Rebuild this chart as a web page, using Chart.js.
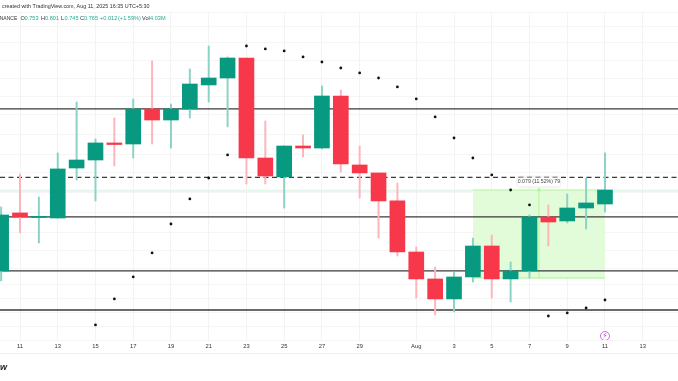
<!DOCTYPE html>
<html>
<head>
<meta charset="utf-8">
<title>BINANCE daily</title>
<script src="https://cdn.jsdelivr.net/npm/chart.js@4"></script>
<style>
  html, body { margin: 0; padding: 0; background: #fff; overflow: hidden; }
  canvas { display: block; }
</style>
</head>
<body>
<canvas id="chart" width="678" height="381"></canvas>
<script>
// Days since Jul 11
const candleDays = [-1,0,1,2,3,4,5,6,7,8,9,10,11,12,13,14,15,16,17,18,19,20,21,22,23,24,25,26,27,28,29,30,31];
const opens  = [.6881,.7432,.7389,.7384,.7859,.7935,.8097,.8087,.8420,.8315,.8420,.8648,.8714,.8904,.7954,.7774,.8068,.8049,.8543,.7888,.7812,.7546,.7061,.6805,.6615,.6824,.7118,.6805,.6881,.7394,.7356,.7479,.7517];
const highs  = [.7489,.7802,.7584,.8002,.8486,.8135,.8334,.8515,.8876,.8467,.8800,.9018,.8914,.8904,.8306,.8068,.8173,.8638,.8600,.8068,.7812,.7717,.7109,.6919,.6871,.7194,.7223,.6966,.7413,.7508,.7612,.7764,.8002];
const lows   = [.6786,.7242,.7147,.7384,.7745,.7546,.7878,.7954,.8087,.8049,.8334,.8486,.8249,.7707,.7707,.7479,.7964,.8040,.7821,.7574,.7194,.7023,.6624,.6463,.6491,.6776,.6624,.6586,.6814,.7118,.7337,.7280,.7441];
const closes = [.7413,.7394,.7399,.7850,.7935,.8097,.8082,.8420,.8315,.8420,.8657,.8714,.8904,.7954,.7783,.8068,.8049,.8543,.7897,.7812,.7546,.7061,.6805,.6615,.6824,.7118,.6805,.6881,.7394,.7346,.7479,.7527,.7650];

// Parabolic SAR dots
const sarDays = [4,5,6,7,8,9,10,11,12,13,14,15,16,17,18,19,20,21,22,23,24,25,26,27,28,29,30,31];
const sarValues = [.6368,.6615,.6824,.7052,.7327,.7565,.7764,.7983,.9018,.8990,.8971,.8914,.8866,.8809,.8762,.8714,.8629,.8515,.8344,.8144,.7954,.7793,.7650,.7508,.6453,.6482,.6529,.6605];

// Drawn levels
const solidLevels = [.8420,.7394,.6881,.6510];
const dashedLevel = .7769;
const lastPriceLevel = .7643;

// Long position box
const boxDays = [24,31];
const boxTop = .7650;
const boxBottom = .6814;
const arrowDay = 27.5;
const boxLabel = '0.079 (11.52%) 79';

// Axes
const tickDays = [0,2,4,6,8,10,12,14,16,18,21,23,25,27,29,31,33];
const tickLabels = ['11','13','15','17','19','21','23','25','27','29','Aug','3','5','7','9','11','13'];
const gridPrices = [.9341,.9208,.9047,.8876,.8705,.8534,.8363,.8182,.7992,.7812,.7622,.7432,.7242,.7080,.6909,.6757,.6624,.6482,.6349,.6225];
const dayMin = -1.06, dayMax = 34.87;
const priceMin = .6225, priceMax = .9341;
const eventDay = 31, eventPrice = .6263;

const upColor = '#089981', downColor = '#f7374a';
const upWick = '#8ad2c5', downWick = '#fdb4bb';
const isUp = closes.map((c, i) => c >= opens[i]);

function levelLine(value, extra) {
    return Object.assign({
        type: 'line',
        data: [{x: dayMin, y: value}, {x: dayMax, y: value}],
        borderColor: '#3a3a3a',
        borderWidth: 1.3,
        pointRadius: 0,
        order: 5
    }, extra);
}

// Text and small overlays
const overlay = {
    id: 'overlay',
    beforeDraw(chart) {
        const c = chart.ctx, bottom = chart.scales.x.bottom;
        c.save();
        c.strokeStyle = '#f0f0f0';
        c.beginPath();
        c.moveTo(0, bottom + 0.5);
        c.lineTo(678, bottom + 0.5);
        c.stroke();
        c.restore();
    },
    afterDraw(chart) {
        const c = chart.ctx, x = chart.scales.x, y = chart.scales.y;
        c.save();
        c.textBaseline = 'middle';
        c.font = '5.4px "Liberation Sans"';
        c.fillStyle = '#333';
        c.fillText('created with TradingView.com, Aug 11, 2025 16:35 UTC+5:30', 2, 6.5);

        c.font = '5px "Liberation Sans"';
        c.fillText('BINANCE', -5, 18.5);

        const teal = '#22ab94', dark = '#333';
        const header = [
            ['O', 20.5, dark], ['0.753', 24.5, teal],
            ['H', 41, dark], ['0.801', 45, teal], ['L', 61, dark], ['0.745', 64.5, teal],
            ['C', 80, dark], ['0.765', 84, teal], ['+0.012', 100, teal], ['(+1.59%)', 118, teal],
            ['Vol', 142, dark], ['4.03M', 150, teal]
        ];
        c.font = '5.6px "Liberation Sans"';
        header.forEach(h => {
            c.fillStyle = h[2];
            c.fillText(h[0], h[1], 18.5);
        });

        c.font = 'italic bold 9px "Liberation Sans"';
        c.fillStyle = '#222';
        c.fillText('w', 0, 368);

        // Label above the position box
        const lx = x.getPixelForValue(arrowDay), ly = y.getPixelForValue(boxTop) - 8;
        c.shadowColor = 'rgba(0,0,0,.18)';
        c.shadowBlur = 3;
        c.fillStyle = '#fff';
        c.beginPath();
        c.roundRect(lx - 21, ly - 4.5, 42, 9, 1.5);
        c.fill();
        c.shadowBlur = 0;
        c.fillStyle = '#444';
        c.font = '5.2px "Liberation Sans"';
        c.textAlign = 'center';
        c.fillText(boxLabel, lx, ly);

        // Lightning mark inside the event circle
        c.fillStyle = '#b03ccc';
        c.font = 'bold 7.5px "DejaVu Sans"';
        c.fillText('\u26A1', x.getPixelForValue(eventDay), y.getPixelForValue(eventPrice));
        c.restore();
    }
};

new Chart(document.getElementById('chart'), {
    type: 'bar',
    data: {
        datasets: [
            {
                type: 'line',
                data: boxDays.map(d => ({x: d, y: boxTop})),
                borderColor: '#b4f5a0',
                borderWidth: 1,
                backgroundColor: '#e2fbd9',
                fill: {value: boxBottom},
                pointRadius: 0,
                order: 7
            },
            {
                type: 'line',
                data: boxDays.map(d => ({x: d, y: boxBottom})),
                borderColor: '#a6f58c',
                borderWidth: 1,
                pointRadius: 0,
                order: 6
            },
            {
                type: 'line',
                data: [{x: arrowDay, y: boxBottom}, {x: arrowDay, y: boxTop}],
                borderColor: '#b4f5a0',
                borderWidth: 1,
                pointRadius: [0, 2],
                pointStyle: 'triangle',
                pointBackgroundColor: '#b4f5a0',
                pointBorderColor: '#b4f5a0',
                order: 6
            },
            levelLine(lastPriceLevel, {borderColor: '#e3f5ec', borderWidth: 2, order: 8}),
            ...solidLevels.map(v => levelLine(v)),
            levelLine(dashedLevel, {borderDash: [5, 3.5]}),
            {
                data: candleDays.map((d, i) => ({x: d, y: [lows[i], highs[i]]})),
                backgroundColor: isUp.map(u => u ? upWick : downWick),
                barThickness: 1.3,
                grouped: false,
                order: 4
            },
            {
                data: candleDays.map((d, i) => ({x: d, y: [opens[i], closes[i]]})),
                backgroundColor: isUp.map(u => u ? upColor : downColor),
                barThickness: 15,
                grouped: false,
                order: 3
            },
            {
                type: 'scatter',
                data: sarDays.map((d, i) => ({x: d, y: sarValues[i]})),
                pointRadius: 1.4,
                pointBackgroundColor: '#111',
                pointBorderWidth: 0,
                order: 2
            },
            {
                type: 'scatter',
                data: [{x: eventDay, y: eventPrice}],
                pointRadius: 4.5,
                pointBackgroundColor: '#fff',
                pointBorderColor: '#c04fd8',
                pointBorderWidth: 0.8,
                order: 1
            }
        ]
    },
    options: {
        responsive: false,
        animation: false,
        layout: {autoPadding: false, padding: {top: 12, bottom: 28, left: 0, right: 0}},
        plugins: {legend: {display: false}, tooltip: {enabled: false}},
        scales: {
            x: {
                type: 'linear',
                min: dayMin,
                max: dayMax,
                offset: false,
                border: {display: false},
                grid: {color: '#f3f3f3', offset: false, drawTicks: false},
                afterBuildTicks: s => { s.ticks = tickDays.map(v => ({value: v})); },
                // labels sit away from the edges, so no side margin is needed
                afterFit: s => { s.height = 13; s.paddingLeft = 0; s.paddingRight = 0; },
                ticks: {
                    autoSkip: false,
                    maxRotation: 0,
                    padding: 3,
                    color: '#333',
                    font: {family: 'Liberation Sans', size: 5.8},
                    callback: (v, i) => tickLabels[i]
                }
            },
            y: {
                min: priceMin,
                max: priceMax,
                border: {display: false},
                grid: {color: '#f5f5f5', drawTicks: false},
                afterBuildTicks: s => { s.ticks = gridPrices.map(v => ({value: v})); },
                afterFit: s => { s.width = 0; },
                ticks: {display: false}
            }
        }
    },
    plugins: [overlay]
});
</script>
</body>
</html>
